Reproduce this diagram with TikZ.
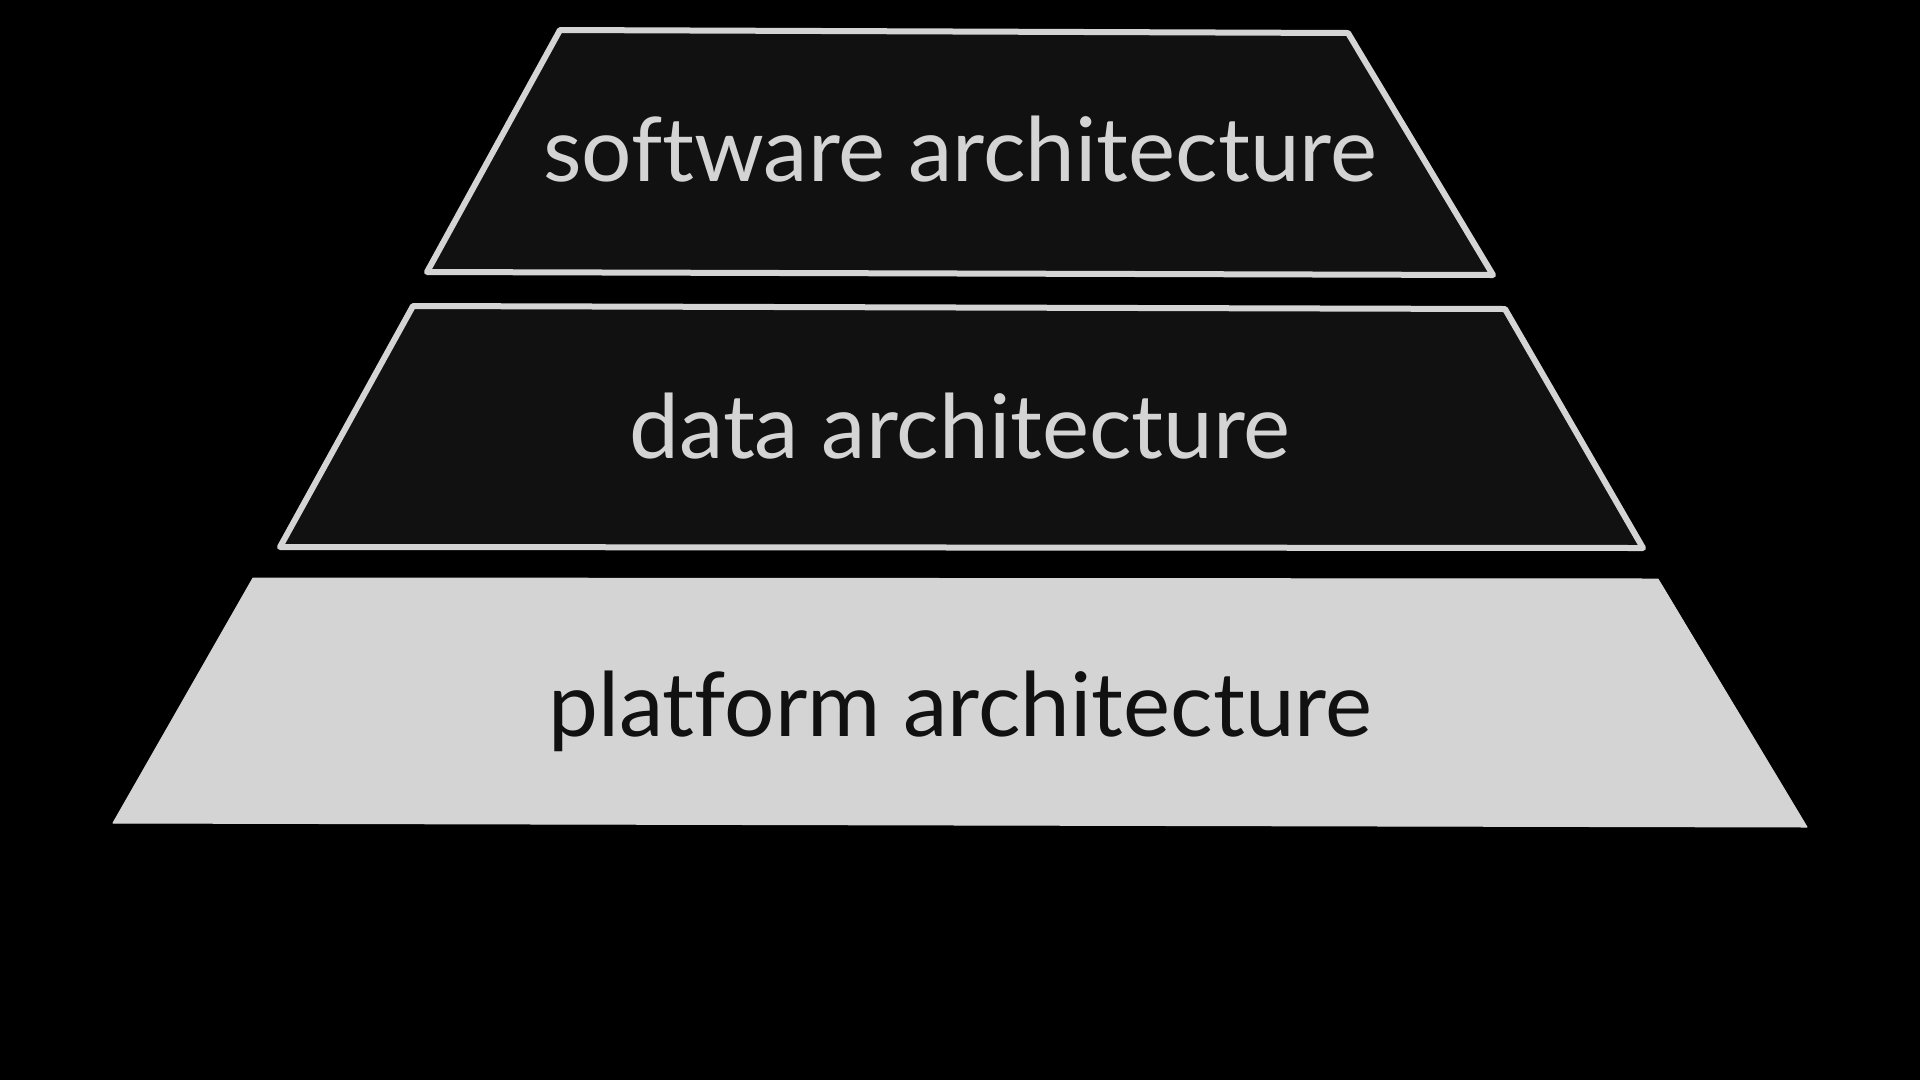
\documentclass[tikz,border=0pt]{standalone}
\usepackage{fontspec}
\setmainfont[Ligatures={NoCommon,NoRare,NoContextual}]{Lato}
\definecolor{bgc}{HTML}{000000}
\definecolor{darkfill}{HTML}{111111}
\definecolor{lightc}{HTML}{D4D4D4}
\tikzset{
  layerdark/.style={fill=darkfill, draw=lightc, line width=6pt, line join=round},
  layerlight/.style={fill=lightc, draw=lightc, line width=1pt, line join=round},
  lbl/.style={anchor=base, inner sep=0pt, font=\fontsize{89}{104}\selectfont},
}
\begin{document}
\begin{tikzpicture}[x=1pt,y=-1pt]
\fill[bgc] (0,0) rectangle (1920,1080);
\useasboundingbox (0,0) rectangle (1920,1080);
\draw[layerdark] (560,30) -- (1348,33) -- (1493,275) -- (427,272) -- cycle;
\draw[layerdark] (413,306) -- (1505,309) -- (1643,548) -- (280,547) -- cycle;
\draw[layerlight] (253,578) -- (1658,579) -- (1807,827) -- (113,823) -- cycle;
\node[lbl, text=lightc] (sw) at (960,181) {software architecture};
\node[lbl, text=lightc] (da) at (960,458) {data architecture};
\node[lbl, text=darkfill] (pa) at (960,736) {platform architecture};
\end{tikzpicture}
\end{document}
